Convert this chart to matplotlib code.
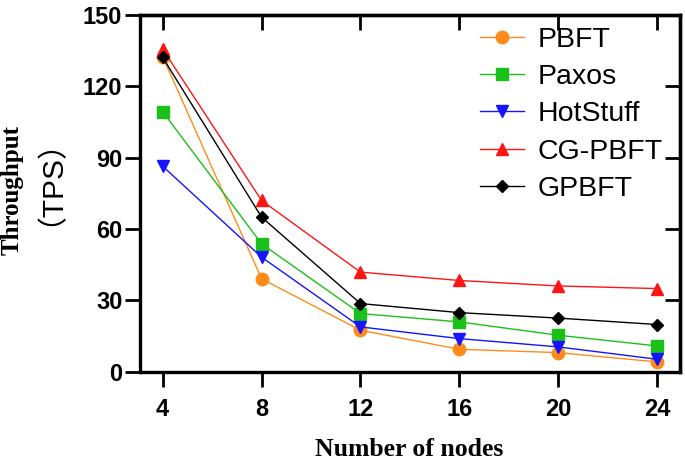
import matplotlib
matplotlib.use("Agg")
from matplotlib import pyplot as plt

# node counts on the x axis
nodes = [4, 8, 12, 16, 20, 24]

# throughput (TPS)
pbft = [132.4, 39.1, 17.5, 9.5, 8.1, 4.2]
paxos = [109.3, 53.8, 24.5, 21.0, 15.4, 10.9]
hotstuff = [86.4, 48.2, 18.9, 14.0, 10.5, 5.3]
cg_pbft = [135.6, 72.0, 41.9, 38.4, 36.1, 35.0]
gpbft = [132.1, 65.0, 28.7, 24.9, 22.6, 19.9]

labels = ["PBFT", "Paxos", "HotStuff", "CG-PBFT", "GPBFT"]
y_ticks = [0, 30, 60, 90, 120, 150]

series = [
    (pbft, "#ff8c1a", "o", 9),
    (paxos, "#19c119", "s", 8),
    (hotstuff, "#1414ff", "v", 9),
    (cg_pbft, "#ff1414", "^", 9),
    (gpbft, "#000000", "D", 6),
]

sans = ["Liberation Sans", "Noto Sans CJK SC"]
serif = ["Liberation Serif"]

fig = plt.figure(figsize=(6.85, 4.62), dpi=100)
ax = fig.add_axes([0.205, 0.195, 0.788, 0.773])

for (values, color, marker, size), label in zip(series, labels):
    ax.plot(nodes, values, color=color, marker=marker, markersize=size,
            linewidth=1.0, label=label)

ax.set_xlim(3.1, 24.93)
ax.set_ylim(0, 150)
ax.set_xticks(nodes)
ax.set_yticks(y_ticks)

for spine in ax.spines.values():
    spine.set_linewidth(2.4)

ax.tick_params(axis="both", direction="out", length=11, width=2.0,
               labelsize=17)
ax.tick_params(axis="x", pad=8)
ax.tick_params(axis="y", pad=2)

# top/right ticks point inward like the original
top = ax.secondary_xaxis("top")
top.set_xticks(nodes)
top.tick_params(direction="in", length=11, width=2.0, labeltop=False)
right = ax.secondary_yaxis("right")
right.set_yticks(y_ticks)
right.tick_params(direction="in", length=11, width=2.0, labelright=False)
for sec in (top, right):
    for spine in sec.spines.values():
        spine.set_linewidth(2.4)

for lab in ax.get_xticklabels() + ax.get_yticklabels():
    lab.set_fontfamily(sans)
    lab.set_fontweight("bold")

leg = ax.legend(loc="upper right", bbox_to_anchor=(1.0, 1.015), frameon=False,
                prop={"family": sans, "size": 20.5}, handlelength=1.55,
                handletextpad=0.5, labelspacing=0.4, borderaxespad=0.2)
leg.set_zorder(5)

fig.text(0.598, 0.028, "Number of nodes", ha="center", va="center",
         family=serif, fontweight="bold", fontsize=18.5)
fig.text(0.017, 0.589, "Throughput", rotation=90, ha="center", va="center",
         family=serif, fontweight="bold", fontsize=18)
fig.text(0.052, 0.638, "（TPS）", rotation=90, ha="center", va="center",
         family=sans, fontsize=21.5)

fig.savefig("out.png", dpi=100)
